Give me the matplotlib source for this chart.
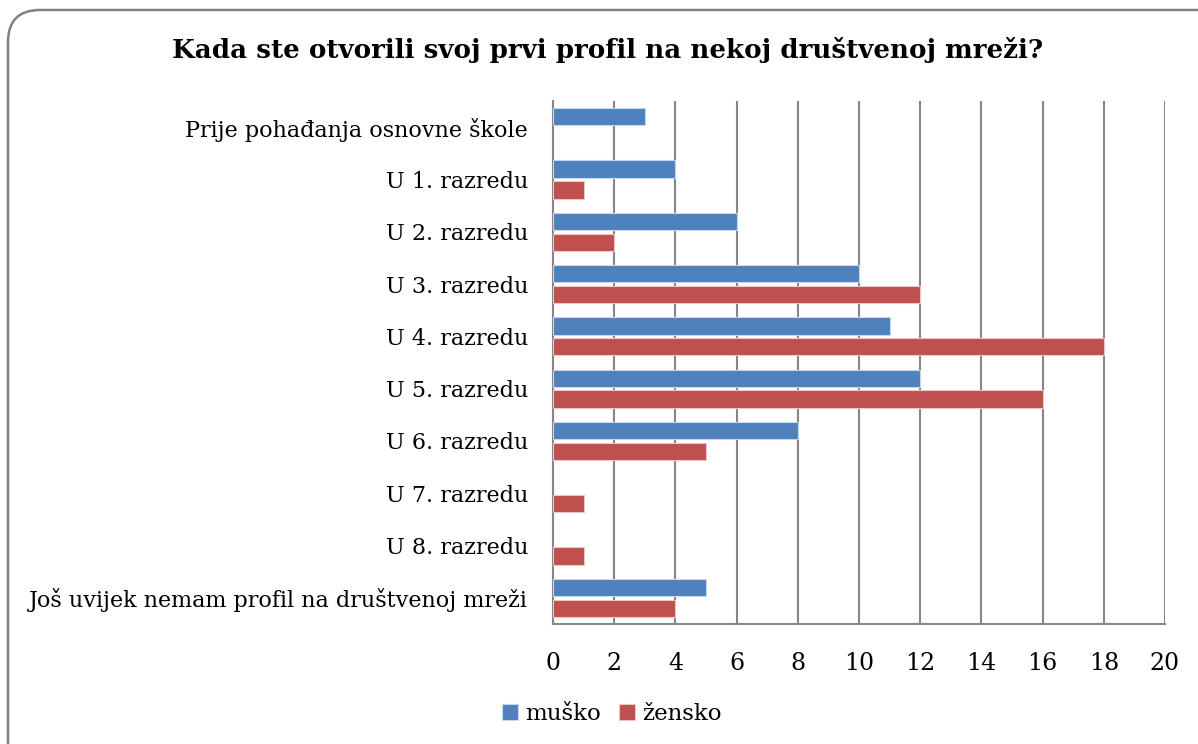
import matplotlib.pyplot as plt
from matplotlib.patches import FancyBboxPatch
import numpy as np

# data
categories = ["Prije pohađanja osnovne škole", "U 1. razredu", "U 2. razredu",
              "U 3. razredu", "U 4. razredu", "U 5. razredu", "U 6. razredu",
              "U 7. razredu", "U 8. razredu",
              "Još uvijek nemam profil na društvenoj mreži"]
musko = [3, 4, 6, 10, 11, 12, 8, 0, 0, 5]
zensko = [0, 1, 2, 12, 18, 16, 5, 1, 1, 4]
series_names = ["muško", "žensko"]
xticks = list(range(0, 21, 2))

blue = "#4F81BD"
red = "#C0504D"
grid_col = "#868686"

plt.rcParams['font.family'] = ['DejaVu Serif']

fig = plt.figure(figsize=(11.98, 7.44), dpi=100)

# rounded frame around the whole chart (pixel coordinates)
bg = fig.add_axes([0, 0, 1, 1])
bg.set_xlim(0, 1198)
bg.set_ylim(744, 0)
bg.axis("off")
frame = FancyBboxPatch((8, 10), 1240, 780, boxstyle="round,pad=0,rounding_size=32",
                       fc="white", ec="#808080", lw=1.8)
bg.add_patch(frame)

ax = fig.add_axes([553/1198, 1 - 624/744, (1165 - 553)/1198, (624 - 101)/744])
ax.set_facecolor("none")

y = np.arange(len(categories))
h = 0.33
# zero values get no bar at all (otherwise the edge leaves a sliver)
m = np.array(musko, dtype=float)
z = np.array(zensko, dtype=float)
ax.barh(y[m > 0] - 0.2, m[m > 0], height=h, color=blue, edgecolor="#c9d6ea", lw=0.8,
        label=series_names[0], zorder=3)
ax.barh(y[z > 0] + 0.2, z[z > 0], height=h, color=red, edgecolor="#ebc6c5", lw=0.8,
        label=series_names[1], zorder=3)

ax.set_ylim(len(categories) - 0.5, -0.5)
ax.set_xlim(0, 20)
ax.set_xticks(xticks)
ax.set_yticks(y)
ax.set_yticklabels(categories)
ax.tick_params(axis="y", length=0, pad=18, labelsize=16)
ax.tick_params(axis="x", length=0, pad=20, labelsize=17)
ax.grid(axis="x", color=grid_col, lw=1.5, zorder=0)
for s in ["top", "right"]:
    ax.spines[s].set_visible(False)
for s in ["left", "bottom"]:
    ax.spines[s].set_color(grid_col)
    ax.spines[s].set_linewidth(1.5)

fig.text(608/1198, 1 - 50/744, "Kada ste otvorili svoj prvi profil na nekoj društvenoj mreži?",
         ha="center", va="center", fontsize=18.8, fontweight="bold")

ax.legend(loc="center", bbox_to_anchor=(612/1198, 1 - 714/744), bbox_transform=fig.transFigure,
          ncol=2, frameon=False, fontsize=16.5, handlelength=0.7, handleheight=0.7,
          handletextpad=0.3, columnspacing=0.8)

fig.savefig("out.png", dpi=100)
